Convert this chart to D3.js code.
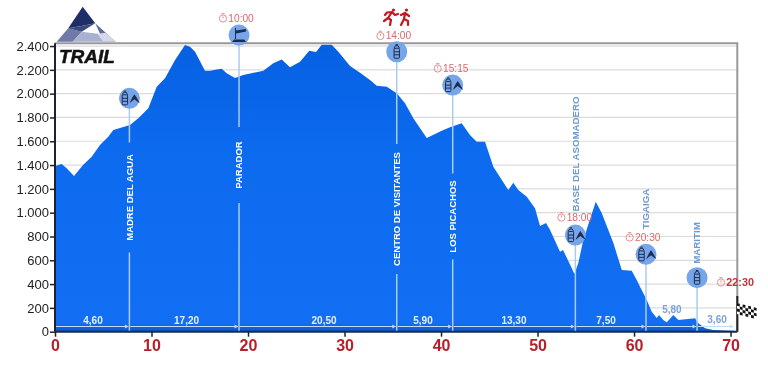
<!DOCTYPE html>
<html>
<head>
<meta charset="utf-8">
<script src="https://cdn.jsdelivr.net/npm/d3@7"></script>
<style>
  html, body { margin: 0; padding: 0; background: #fff; }
  svg { display: block; font-family: "Liberation Sans", Arial, sans-serif; filter: blur(0.3px); }
</style>
</head>
<body>
<svg width="768" height="388"></svg>
<script>
// profile
const profileKm = [0, 0.69, 1.21, 1.97, 2.9, 3.8, 4.66, 5.52, 6.04, 7.77, 8.63, 9.67, 10.54, 11.4, 12.44, 13.47, 13.99, 14.51, 15.54, 16.06, 16.76, 17.27, 17.79, 18.65, 19.51, 21.59, 22.62, 23.49, 24.35, 25.39, 26.35, 27.05, 27.64, 28.67, 29.36, 30.57, 31.61, 32.64, 33.34, 34.37, 35.41, 36.27, 37.13, 38.52, 40.07, 40.93, 42.14, 43.0, 43.7, 44.56, 45.42, 46.97, 47.49, 48.01, 48.88, 49.74, 50.26, 50.88, 51.3, 52.33, 52.64, 53.54, 53.81, 54.23, 54.74, 56.03, 56.65, 57.86, 58.73, 59.76, 60.28, 60.62, 61.32, 61.83, 62.35, 62.59, 63.03, 63.39, 64.07, 64.59, 66.32, 66.66, 67.36, 68.2, 70.26, 70.7];
const profileElev = [1392, 1409, 1373, 1308, 1400, 1470, 1568, 1638, 1694, 1736, 1793, 1877, 2058, 2129, 2282, 2408, 2394, 2352, 2193, 2193, 2204, 2209, 2171, 2131, 2156, 2193, 2255, 2288, 2221, 2268, 2361, 2350, 2411, 2411, 2352, 2232, 2176, 2114, 2067, 2058, 2003, 1919, 1793, 1627, 1689, 1717, 1751, 1652, 1596, 1596, 1386, 1190, 1252, 1190, 1134, 1037, 888, 913, 855, 672, 686, 536, 485, 577, 770, 1092, 997, 745, 518, 512, 434, 378, 266, 168, 115, 140, 98, 79, 140, 98, 113, 71, 29, 14, 8, 5];

const yTicks = [0, 200, 400, 600, 800, 1000, 1200, 1400, 1600, 1800, 2000, 2200, 2400];
const xTicks = [0, 10, 20, 30, 40, 50, 60, 70];

// aid stations
const stopNames = ["MADRE DEL AGUA", "PARADOR", "CENTRO DE VISITANTES", "LOS PICACHOS", "BASE DEL ASOMADERO", "TIGAIGA", "MARITIM"];
const stopKm = [7.71, 19.07, 35.41, 41.21, 53.92, 61.24, 66.53];
const stopElev = [1961, 2492, 2352, 2072, 812, 650, 454];
const stopIcons = ["both", "bed", "bottle", "both", "both", "both", "bottle"];

const timeLabels = ["10:00", "14:00", "15:15", "18:00", "20:30", "22:30"];
const segmentLabels = ["4,60", "17,20", "20,50", "5,90", "13,30", "7,50", "5,80", "3,60"];
const segmentLabelKm = [3.94, 13.63, 27.88, 38.13, 47.56, 57.1, 63.93, 68.6];

const svg = d3.select("svg");
const plotLeft = 55, plotRight = 737.3, plotTop = 43.2, plotBottom = 331.7;

const x = d3.scaleLinear().domain([0, 70.7]).range([plotLeft, plotRight]);
const y = d3.scaleLinear().domain([0, 2424]).range([plotBottom, plotTop]);

const grad = svg.append("defs").append("linearGradient")
  .attr("id", "fill").attr("x1", 0).attr("x2", 0).attr("y1", 0).attr("y2", 1);
grad.append("stop").attr("offset", "0%").attr("stop-color", "#0660e2");
grad.append("stop").attr("offset", "35%").attr("stop-color", "#0c6aee");
grad.append("stop").attr("offset", "97%").attr("stop-color", "#126ff4");
grad.append("stop").attr("offset", "100%").attr("stop-color", "#0d55c4");

// grid
svg.append("g").selectAll("line").data(yTicks.slice(1)).join("line")
  .attr("x1", plotLeft).attr("x2", plotRight)
  .attr("y1", d => y(d)).attr("y2", d => y(d))
  .attr("stroke", "#dcdcdc").attr("stroke-width", 1.2);

// profile
const profile = d3.zip(profileKm, profileElev);
const area = d3.area()
  .x(d => x(d[0]))
  .y0(plotBottom)
  .y1(d => y(d[1]));
svg.append("path").datum(profile).attr("d", area).attr("fill", "url(#fill)");

// frame
svg.append("path").attr("d", `M${plotLeft},${plotTop}H${plotRight}V${plotBottom}`)
  .attr("fill", "none").attr("stroke", "#999").attr("stroke-width", 2);
svg.append("line").attr("x1", plotRight).attr("x2", plotRight).attr("y1", 296).attr("y2", plotBottom)
  .attr("stroke", "#222").attr("stroke-width", 2);

// axes
const fmt = d3.formatLocale({ decimal: ",", thousands: ".", grouping: [3], currency: ["", ""] }).format(",d");
const yAxis = svg.append("g").attr("transform", `translate(${plotLeft},0)`)
  .call(d3.axisLeft(y).tickValues(yTicks).tickFormat(fmt).tickSize(5).tickPadding(1));
yAxis.selectAll("text").attr("font-size", 13).attr("font-family", "Liberation Sans").attr("fill", "#222");
yAxis.selectAll("line").attr("stroke", "#222").attr("stroke-width", 1.5);
yAxis.select(".domain").attr("stroke", "#1b2233").attr("stroke-width", 2).attr("d", `M0,${plotTop}V${plotBottom}`);

const xAxis = svg.append("g").attr("transform", `translate(0,${plotBottom})`)
  .call(d3.axisBottom(x).tickValues(xTicks).tickFormat(d3.format("d")).tickSize(5).tickPadding(3));
xAxis.selectAll("text").attr("font-size", 16).attr("font-weight", "bold")
  .attr("font-family", "Liberation Sans").attr("fill", "#b5202a");
xAxis.selectAll("line").attr("stroke", "#222").attr("stroke-width", 1.5);
xAxis.select(".domain").attr("stroke", "#1b2a4a").attr("stroke-width", 2).attr("d", `M${plotLeft},0H${plotRight}`);

// stop lines, broken where the name sits on them
const nameLayout = [
  { cy: 197.5, gap: 55, fill: "#fff" },
  { cy: 165, gap: 38, fill: "#fff" },
  { cy: 209, gap: 65, fill: "#fff" },
  { cy: 216.5, gap: 43, fill: "#fff" },
  { cy: 154, gap: 0, fill: "#6c9ad2" },
  { cy: 209, gap: 0, fill: "#6c9ad2" },
  { cy: 243, gap: 0, fill: "#6c9ad2" }
];
const lineCol = "#a9ccf3";
const stops = svg.append("g");
stopKm.forEach((km, i) => {
  const px = x(km), py = y(stopElev[i]), l = nameLayout[i];
  if (l.gap) {
    stops.append("line").attr("x1", px).attr("x2", px).attr("y1", py).attr("y2", l.cy - l.gap)
      .attr("stroke", lineCol).attr("stroke-width", 1.5);
    stops.append("line").attr("x1", px).attr("x2", px).attr("y1", l.cy + l.gap).attr("y2", plotBottom - 1)
      .attr("stroke", lineCol).attr("stroke-width", 1.5);
  } else {
    stops.append("line").attr("x1", px).attr("x2", px).attr("y1", py).attr("y2", plotBottom - 1)
      .attr("stroke", lineCol).attr("stroke-width", 1.5);
  }
  stops.append("text")
    .attr("transform", `translate(${px + 3.4},${l.cy}) rotate(-90)`)
    .attr("text-anchor", "middle")
    .attr("font-size", i >= 4 ? 9.7 : 9.5)
    .attr("font-weight", "bold")
    .attr("fill", l.fill)
    .text(stopNames[i]);

  const g = stops.append("g").attr("transform", `translate(${px},${py})`);
  g.append("circle").attr("r", 10.5).attr("fill", "#76a5ea");
  drawIcon(g, stopIcons[i]);
});

function bottle(g, dx) {
  const b = g.append("g").attr("transform", `translate(${dx},0)`)
    .attr("fill", "none").attr("stroke", "#1c2c4c").attr("stroke-width", 1);
  b.append("rect").attr("x", -2.7).attr("y", -3.5).attr("width", 5.4).attr("height", 10).attr("rx", 1);
  b.append("path").attr("d", "M-2.7,-3.5L-1.4,-6H1.4L2.7,-3.5M-1.2,-7.2H1.2M-2.7,0H2.7M-2.7,3H2.7");
}

function drawIcon(g, kind) {
  if (kind == "bottle") {
    bottle(g, 0);
  } else if (kind == "both") {
    bottle(g, -4.5);
    g.append("path")
      .attr("d", "M0,5L3,-1L5,-4L7,-1L10.5,5L7.5,3L5,1L2.5,3Z")
      .attr("fill", "#1c2c4c");
  } else {
    g.append("path")
      .attr("d", "M-7,7H7L5,4.5H-5ZM-4,4V-7H-3V-4.5L7,-6V-3.5L-3,-1.5V4Z")
      .attr("fill", "#1c2c4c");
  }
}

// departure times
const timeLayout = [
  { tx: 228.3, ty: 18 }, { tx: 385.7, ty: 35.5 }, { tx: 443, ty: 68 },
  { tx: 566.7, ty: 217 }, { tx: 635, ty: 237 }, { tx: 726.3, ty: 282 }
];
const times = svg.append("g");
timeLabels.forEach((t, i) => {
  const p = timeLayout[i], last = i == timeLabels.length - 1;
  const col = last ? "#c9303a" : "#d8696c";
  times.append("text").attr("x", p.tx).attr("y", p.ty + 3.7)
    .attr("font-size", last ? 10.8 : 10.2).attr("font-weight", last ? "bold" : "normal")
    .attr("fill", col).text(t);
  times.append("circle").attr("cx", p.tx - 5.3).attr("cy", p.ty + 0.5).attr("r", 3.6)
    .attr("fill", "none").attr("stroke", "#e08585").attr("stroke-width", 0.9);
  times.append("path").attr("d", `M${p.tx - 7},${p.ty - 4.3}h3.4M${p.tx - 5.3},${p.ty + 0.5}v-2.2`)
    .attr("stroke", "#e08585").attr("stroke-width", 0.9);
});

// segment distances with arrows
const segEdges = [0].concat(stopKm, [70.4]);
const segments = svg.append("g");
const segY = 326.5;
d3.pairs(segEdges).forEach(([a, b]) => {
  segments.append("line").attr("x1", x(a) + 1).attr("x2", x(b) - 1).attr("y1", segY).attr("y2", segY)
    .attr("stroke", "#c3dcf8").attr("stroke-width", 1);
  segments.append("path")
    .attr("d", `M${x(b) - 1},${segY}l-3.5,-2v4Z`)
    .attr("fill", "#c3dcf8");
});
segmentLabels.forEach((s, i) => {
  const outside = i >= 6;
  segments.append("text")
    .attr("x", x(segmentLabelKm[i]))
    .attr("y", i == 6 ? 312.5 : (i == 7 ? 322.5 : 323.5))
    .attr("text-anchor", "middle")
    .attr("font-size", 10).attr("font-weight", "bold")
    .attr("fill", outside ? "#7ba3d8" : "#e4f0fd")
    .text(s);
});

// logo
const logo = svg.append("g").attr("transform", "translate(56.7,6.7)");
const facets = [
  ["M26,0L11.5,21.5L23.5,19.5L38.5,16.5Z", "#1f2e66"],
  ["M11.5,21.5L0,35H16L25,25Z", "#6f7aa6"],
  ["M26,0L38.5,16.5L59,35H47L38.5,16.5Z", "#5e6b9e"],
  ["M25,25L16,35H47L41,27Z", "#aab1cf"],
  ["M41,27L47,35H59L49,26Z", "#d5d8e8"],
  ["M11.5,21.5L25,25L38.5,16.5L23.5,19.5Z", "#39477f"]
];
logo.selectAll("path").data(facets).join("path")
  .attr("d", d => d[0]).attr("fill", d => d[1]);

svg.append("text").attr("x", 59).attr("y", 63)
  .attr("font-size", 19).attr("font-weight", "bold").attr("font-style", "italic")
  .attr("fill", "#111").attr("stroke", "#111").attr("stroke-width", 0.5).text("TRAIL");

// runners
const runners = svg.append("g").attr("stroke", "#c8141c").attr("stroke-width", 2.2)
  .attr("fill", "none").attr("stroke-linecap", "round").attr("stroke-linejoin", "round");
runners.append("path").attr("d", "M392,12L388,18L384,21M388,18L391,20L390,25M392,12L387,12.5L385,15M392,12L395,15L398,14");
runners.append("circle").attr("cx", 393.5).attr("cy", 10).attr("r", 1.6).attr("fill", "#c8141c").attr("stroke", "none");
runners.append("path").attr("d", "M405,13L404,19L401,25M404,19L408,21L408,25M405,13L401,15M405,13L409,16");
runners.append("circle").attr("cx", 406.5).attr("cy", 10).attr("r", 1.6).attr("fill", "#c8141c").attr("stroke", "none");

// finish flag
const flag = svg.append("g").attr("transform", "translate(737,303) skewY(14)");
flag.append("rect").attr("width", 19).attr("height", 11).attr("fill", "#fff");
d3.range(7).forEach(c => d3.range(4).forEach(r => {
  if ((c + r) % 2 == 0) {
    flag.append("rect").attr("x", c * 2.8).attr("y", r * 2.8)
      .attr("width", 2.8).attr("height", 2.8).attr("fill", "#111");
  }
}));
</script>
</body>
</html>
